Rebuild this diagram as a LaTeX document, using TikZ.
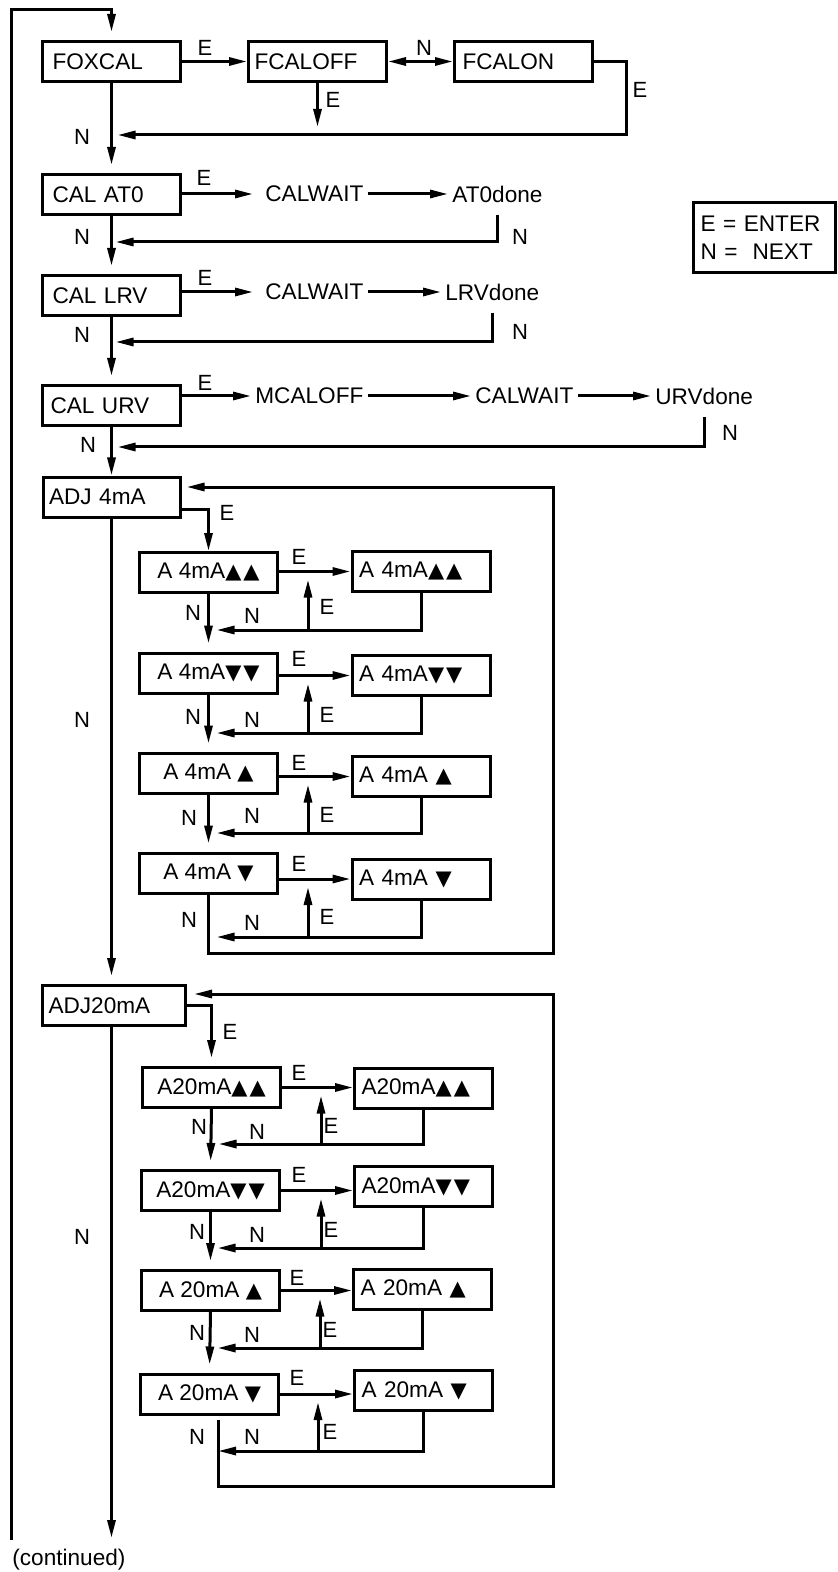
\documentclass[tikz,border=0pt]{standalone}
\usepackage{fontspec}
\setmainfont{Liberation Sans}
\newfontfamily\symfont{DejaVu Sans}
\usetikzlibrary{arrows.meta}
\newcommand\boxfont{\fontsize{11.3}{14}\selectfont}
\newcommand\lblfont{\fontsize{11}{12}\selectfont}
\newcommand\upT{{\symfont\fontsize{10.5}{11}\selectfont ▲}}
\newcommand\dnT{{\symfont\fontsize{10.5}{11}\selectfont ▼}}

\begin{document}
\begin{tikzpicture}[
    x=0.5pt, y=-0.5pt,
    >={Triangle[length=9pt, width=4pt]},
    menu/.style={
        rectangle, draw, line width=1.5pt,
        minimum height=20pt, text width=59pt, inner xsep=5pt,
        align=left, font=\boxfont
    },
    stepL/.style={rectangle, draw, line width=1.5pt, minimum height=20pt, minimum width=69pt, inner xsep=2pt, font=\boxfont},
    stepR/.style={rectangle, draw, line width=1.5pt, minimum height=20pt, text width=62pt, inner xsep=3.5pt, align=left, font=\boxfont},
    keybox/.style={rectangle, draw, line width=1.5pt, minimum height=35pt, text width=64pt, inner xsep=3.5pt, align=left, font=\boxfont},
    word/.style={inner xsep=2pt, inner ysep=2pt, font=\boxfont},
    lbl/.style={inner sep=0pt, font=\lblfont},
    arrow/.style={->, line width=1.5pt},
    twoway/.style={<->, line width=1.5pt},
    gap/.style={shorten >=4pt}
]
  \useasboundingbox (0,0) rectangle (838,1572);

  % Main menu column
  \node[menu] (foxcal) at (111.5,61.5) {FOXCAL};
  \node[menu, inner xsep=3pt, text width=63pt] (fcaloff) at (317.5,61.5) {FCALOFF};
  \node[menu, inner xsep=4pt, text width=61pt] (fcalon) at (523.5,61.5) {FCALON};
  \node[menu] (calat0) at (111.5,194.5) {CAL AT0};
  \node[menu] (callrv) at (111.5,295.5) {CAL LRV};
  \node[menu, inner xsep=4pt, text width=61pt] (calurv) at (111.5,405.5) {CAL URV};
  \node[menu, inner xsep=3pt, text width=62.5pt] (adj4) at (111.5,497) {ADJ 4mA};
  \node[menu, inner xsep=3pt, text width=65.5pt] (adj20) at (114,1005.5) {ADJ20mA};

  % Calibration steps (plain words)
  \node[word, anchor=west] (wait0) at (261,194) {CALWAIT};
  \node[word, anchor=west] (done0) at (448,194) {AT0done};
  \node[word, anchor=west] (wait1) at (261,292) {CALWAIT};
  \node[word, anchor=west] (done1) at (441,292) {LRVdone};
  \node[word, anchor=west] (mcal) at (251,396) {MCALOFF};
  \node[word, anchor=west] (wait2) at (471,396) {CALWAIT};
  \node[word, anchor=west] (done2) at (651,396) {URVdone};

  % Key
  \node[keybox] (key) at (764.5,237.5) {E = ENTER\\N = \ NEXT};

  % 4 mA trim boxes
  \node[stepL] (a4L1) at (208.5,572.5) {A 4mA\upT\kern1pt\upT};
  \node[stepR] (a4R1) at (421,571.5) {A 4mA\upT\kern1pt\upT};
  \node[stepL] (a4L2) at (208.5,673) {A 4mA\dnT\kern1pt\dnT};
  \node[stepR] (a4R2) at (421,675.5) {A 4mA\dnT\kern1pt\dnT};
  \node[stepL] (a4L3) at (208.5,773) {A 4mA \upT};
  \node[stepR] (a4R3) at (421,776.5) {A 4mA \upT};
  \node[stepL] (a4L4) at (208.5,873) {A 4mA \dnT};
  \node[stepR] (a4R4) at (421,879) {A 4mA \dnT};

  % 20 mA trim boxes
  \node[stepL] (a20L1) at (211.5,1087.5) {A20mA\upT\kern1pt\upT};
  \node[stepR] (a20R1) at (423.5,1088) {A20mA\upT\kern1pt\upT};
  \node[stepL] (a20L2) at (210.5,1190.5) {A20mA\dnT\kern1pt\dnT};
  \node[stepR] (a20R2) at (423.5,1186.5) {A20mA\dnT\kern1pt\dnT};
  \node[stepL] (a20L3) at (210.5,1290.5) {A 20mA \upT};
  \node[stepR] (a20R3) at (422.5,1289) {A 20mA \upT};
  \node[stepL] (a20L4) at (209.5,1394) {A 20mA \dnT};
  \node[stepR] (a20R4) at (423.5,1390.5) {A 20mA \dnT};

  % Bend points
  \coordinate (outerend) at (11,1540);
  \coordinate (outertop) at (11,10);
  \coordinate (offend) at (317.5,127);
  \coordinate (onback) at (626,135);
  \coordinate (ret0) at (0,242);
  \coordinate (ret1) at (0,342);
  \coordinate (ret2) at (0,447);
  \coordinate (a4b1) at (308,630);
  \coordinate (a4b2) at (308,733);
  \coordinate (a4b3) at (308,833);
  \coordinate (a4b4) at (308,937);
  \coordinate (a4loop) at (553,953);
  \coordinate (a4top) at (553,487);
  \coordinate (a20b1) at (321,1144);
  \coordinate (a20b2) at (321,1248);
  \coordinate (a20b3) at (320,1348);
  \coordinate (a20b4) at (318,1451);
  \coordinate (a20drop) at ([xshift=4.25pt, yshift=-2pt]a20L4.south);
  \coordinate (a20loop) at (553,1486);
  \coordinate (a20top) at (553,994);
  \coordinate (mainend) at (111.5,1538);

  % Outer return line
  \draw[arrow, gap] (outerend) -- (outertop) -| (foxcal.north);

  % FOXCAL row
  \draw[arrow] (foxcal.east) -- (fcaloff.west);
  \draw[twoway] (fcaloff.east) -- (fcalon.west);
  \draw[arrow] (fcaloff.south) -- (offend);
  \draw[arrow] (fcalon.east) -| (onback) -- ([xshift=3pt]foxcal.south |- onback);

  % Main N chain
  \draw[arrow, gap] (foxcal.south) -- (calat0.north);
  \draw[arrow, gap] (calat0.south) -- (callrv.north);
  \draw[arrow, gap] (callrv.south) -- (calurv.north);
  \draw[arrow] (calurv.south) -- (adj4.north);
  \draw[arrow, gap] (adj4.south) -- (adj4.south |- adj20.north);
  \draw[arrow] (adj4.south |- adj20.south) -- (mainend);

  % CAL AT0 / LRV / URV rows
  \draw[arrow, gap] (calat0.east |- wait0.west) -- (wait0.west);
  \draw[arrow] (wait0.east) -- (done0.west);
  \draw[arrow] ([yshift=-4pt]done0.south) |- ([xshift=2pt]calat0.south |- ret0);

  \draw[arrow, gap] (callrv.east |- wait1.west) -- (wait1.west);
  \draw[arrow] (wait1.east) -- (done1.west);
  \draw[arrow] ([yshift=-4pt]done1.south) |- ([xshift=2pt]callrv.south |- ret1);

  \draw[arrow] (calurv.east |- mcal.west) -- (mcal.west);
  \draw[arrow] (mcal.east) -- (wait2.west);
  \draw[arrow] (wait2.east) -- (done2.west);
  \draw[arrow] ([yshift=-4pt]done2.south) |- ([xshift=3pt]calurv.south |- ret2);

  % ADJ 4mA loop
  \draw[arrow] ([yshift=-6pt]adj4.east) -| (a4L1.north);
  \draw[arrow] (a4L1.east |- a4R1.west) -- (a4R1.west);
  \draw[arrow] (a4R1.south) |- ([xshift=4pt]a4L1.south |- a4b1);
  \draw[arrow, gap] (a4b1) -- (a4b1 |- a4R1.west);
  \draw[arrow, gap] (a4L1.south) -- (a4L2.north);
  \draw[arrow] (a4L2.east |- a4R2.west) -- (a4R2.west);
  \draw[arrow] (a4R2.south) |- ([xshift=4pt]a4L2.south |- a4b2);
  \draw[arrow, gap] (a4b2) -- (a4b2 |- a4R2.west);
  \draw[arrow, gap] (a4L2.south) -- (a4L3.north);
  \draw[arrow] (a4L3.east |- a4R3.west) -- (a4R3.west);
  \draw[arrow] (a4R3.south) |- ([xshift=4pt]a4L3.south |- a4b3);
  \draw[arrow, gap] (a4b3) -- (a4b3 |- a4R3.west);
  \draw[arrow, gap] (a4L3.south) -- (a4L4.north);
  \draw[arrow] (a4L4.east |- a4R4.west) -- (a4R4.west);
  \draw[arrow] (a4R4.south) |- ([xshift=4pt]a4L4.south |- a4b4);
  \draw[arrow, gap] (a4b4) -- (a4b4 |- a4R4.west);
  \draw[arrow] (a4L4.south) |- (a4loop) -- (a4top) -- ([xshift=2.5pt]adj4.east |- a4top);

  % ADJ20mA loop
  \draw[arrow, gap] (adj20.east) -| (a20L1.north);
  \draw[arrow] (a20L1.east) -- (a20R1.west |- a20L1.east);
  \draw[arrow] (a20R1.south) |- ([xshift=3.5pt]a20L1.south |- a20b1);
  \draw[arrow, gap] (a20b1) -- (a20b1 |- a20L1.east);
  \draw[arrow, gap] (a20L1.south) -- (a20L2.north);
  \draw[arrow] (a20L2.east) -- (a20R2.west |- a20L2.east);
  \draw[arrow] (a20R2.south) |- ([xshift=3.5pt]a20L2.south |- a20b2);
  \draw[arrow, gap] (a20b2) -- (a20b2 |- a20L2.east);
  \draw[arrow, gap] (a20L2.south) -- (a20L3.north);
  \draw[arrow] (a20L3.east) -- (a20R3.west |- a20L3.east);
  \draw[arrow] (a20R3.south) |- ([xshift=3.5pt]a20L3.south |- a20b3);
  \draw[arrow, gap] (a20b3) -- (a20b3 |- a20L3.east);
  \draw[arrow, gap] (a20L3.south) -- (a20L4.north);
  \draw[arrow] (a20L4.east) -- (a20R4.west |- a20L4.east);
  \draw[arrow] (a20R4.south) |- (a20drop |- a20b4);
  \draw[arrow, gap] (a20b4) -- (a20b4 |- a20L4.east);
  \draw[arrow] (a20drop) |- (a20loop) -- (a20top) -- ([xshift=3.5pt]adj20.east |- a20top);

  % Key labels E / N
  \node[lbl] (eFox) at (205,48) {E};
  \node[lbl] (nOff) at (424,48) {N};
  \node[lbl] (eOff) at (333,100) {E};
  \node[lbl] (eOn) at (640,90) {E};
  \node[lbl] (nFox) at (82,137) {N};
  \node[lbl] (eAt0) at (204,178) {E};
  \node[lbl] (nAt0) at (82,237) {N};
  \node[lbl] (nAt0b) at (520,237) {N};
  \node[lbl] (eLrv) at (205,278) {E};
  \node[lbl] (nLrv) at (82,335) {N};
  \node[lbl] (nLrvb) at (520,332) {N};
  \node[lbl] (eUrv) at (205,383) {E};
  \node[lbl] (nUrv) at (88,445) {N};
  \node[lbl] (nUrvb) at (730,433) {N};

  \node[lbl] (eAdj4) at (227,513) {E};
  \node[lbl] (nAdj4) at (82,720) {N};
  \node[lbl] (eA4h1) at (299,557) {E};
  \node[lbl] (eA4v1) at (327,607) {E};
  \node[lbl] (nA4l1) at (193,613) {N};
  \node[lbl] (nA4r1) at (252,616) {N};
  \node[lbl] (eA4h2) at (299,659) {E};
  \node[lbl] (eA4v2) at (327,715) {E};
  \node[lbl] (nA4l2) at (193,717) {N};
  \node[lbl] (nA4r2) at (252,720) {N};
  \node[lbl] (eA4h3) at (299,763) {E};
  \node[lbl] (eA4v3) at (327,815) {E};
  \node[lbl] (nA4l3) at (189,818) {N};
  \node[lbl] (nA4r3) at (252,816) {N};
  \node[lbl] (eA4h4) at (299,864) {E};
  \node[lbl] (eA4v4) at (327,917) {E};
  \node[lbl] (nA4l4) at (189,920) {N};
  \node[lbl] (nA4r4) at (252,923) {N};

  \node[lbl] (eAdj20) at (230,1032) {E};
  \node[lbl] (nAdj20) at (82,1237) {N};
  \node[lbl] (eA20h1) at (299,1073) {E};
  \node[lbl] (eA20v1) at (331,1126) {E};
  \node[lbl] (nA20l1) at (199,1127) {N};
  \node[lbl] (nA20r1) at (257,1132) {N};
  \node[lbl] (eA20h2) at (299,1175) {E};
  \node[lbl] (eA20v2) at (331,1230) {E};
  \node[lbl] (nA20l2) at (197,1232) {N};
  \node[lbl] (nA20r2) at (257,1235) {N};
  \node[lbl] (eA20h3) at (297,1278) {E};
  \node[lbl] (eA20v3) at (330,1330) {E};
  \node[lbl] (nA20l3) at (197,1333) {N};
  \node[lbl] (nA20r3) at (252,1335) {N};
  \node[lbl] (eA20h4) at (297,1378) {E};
  \node[lbl] (eA20v4) at (330,1432) {E};
  \node[lbl] (nA20l4) at (197,1437) {N};
  \node[lbl] (nA20r4) at (252,1437) {N};

  \node[word, anchor=west] (contd) at (8,1560) {(continued)};
\end{tikzpicture}
\end{document}
